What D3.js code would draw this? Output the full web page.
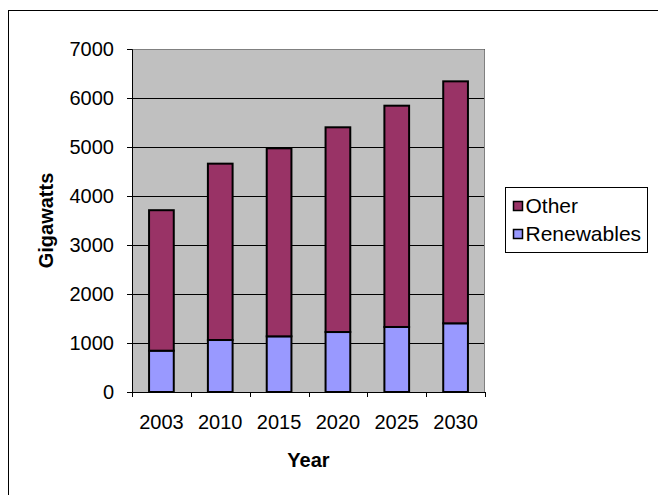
<!DOCTYPE html>
<html>
<head>
<meta charset="utf-8">
<script src="https://cdn.jsdelivr.net/npm/d3@7"></script>
<style>
  body { margin: 0; background: #fff; }
  svg text { font-family: "Liberation Sans", Arial, sans-serif; }
</style>
</head>
<body>
<div id="chart"></div>
<script>
'use strict';

// values (gigawatts)
var years = ['2003', '2010', '2015', '2020', '2025', '2030'];
var renewables = [843, 1061, 1136, 1224, 1327, 1402];
var other = [2867, 3599, 3837, 4178, 4516, 4938];
var yTicks = [0, 1000, 2000, 3000, 4000, 5000, 6000, 7000];
var seriesNames = ['Other', 'Renewables'];
var seriesColors = ['#993366', '#9999FF'];

var W = 658, H = 495;
var margin = {top: 49, right: 173, bottom: 103, left: 132};
var width = W - margin.left - margin.right;
var height = H - margin.top - margin.bottom;
var fontSize = 20;

var svg = d3.select('#chart').append('svg')
	.attr('width', W)
	.attr('height', H);

// outer chart border (runs off the right/bottom edge)
svg.append('rect')
	.attr('x', 8.5).attr('y', 10.5)
	.attr('width', 700).attr('height', 600)
	.attr('fill', 'none')
	.attr('stroke', '#000');

var g = svg.append('g')
	.attr('transform', 'translate(' + margin.left + ',' + margin.top + ')');

var x = d3.scaleBand().domain(years).range([0, width]).paddingInner(0.58).paddingOuter(0.29);
var y = d3.scaleLinear().domain([0, 7000]).range([height, 0]);

g.append('rect')
	.attr('width', width).attr('height', height)
	.attr('fill', '#C0C0C0');

g.selectAll('line.grid').data(yTicks.slice(1)).enter()
	.append('line')
	.attr('class', 'grid')
	.attr('x1', 0).attr('x2', width)
	.attr('y1', function(d){ return Math.round(y(d)) + 0.5; })
	.attr('y2', function(d){ return Math.round(y(d)) + 0.5; })
	.attr('stroke', '#000');

// plot frame top/right
g.append('path')
	.attr('d', 'M0,0.5H' + (width - 0.5) + 'V' + height)
	.attr('fill', 'none')
	.attr('stroke', '#808080');

var data = years.map(function(yr, i){
	return {year: yr, Renewables: renewables[i], Other: other[i]};
});
var stack = d3.stack().keys(['Renewables', 'Other'])(data);
var color = d3.scaleOrdinal().domain(seriesNames).range(seriesColors);

g.selectAll('g.layer').data(stack).enter()
	.append('g')
	.attr('class', 'layer')
	.attr('fill', function(d){ return color(d.key); })
	.selectAll('rect').data(function(d){ return d; }).enter()
	.append('rect')
		.attr('x', function(d){ return x(d.data.year); })
		.attr('y', function(d){ return y(d[1]); })
		.attr('width', x.bandwidth())
		.attr('height', function(d){ return y(d[0]) - y(d[1]); })
		.attr('stroke', '#000')
		.attr('stroke-width', 2);

// axes
var yAxis = g.append('g')
	.call(d3.axisLeft(y).tickValues(yTicks).tickSize(5).tickPadding(13).tickFormat(d3.format('d')));
yAxis.select('.domain').attr('stroke', '#000');
yAxis.selectAll('text').attr('font-size', fontSize).attr('fill', '#000');

var xAxis = g.append('g')
	.attr('transform', 'translate(0,' + height + ')')
	.call(d3.axisBottom(x).tickSize(0).tickPadding(23));
xAxis.select('.domain').remove();
xAxis.selectAll('text').attr('font-size', fontSize).attr('fill', '#000');

// x ticks sit on category boundaries
g.append('line')
	.attr('x1', 0).attr('x2', width)
	.attr('y1', height + 0.5).attr('y2', height + 0.5)
	.attr('stroke', '#000');
g.selectAll('line.xtick').data(d3.range(years.length + 1)).enter()
	.append('line')
	.attr('class', 'xtick')
	.attr('x1', function(i){ return Math.round(i * x.step()) + 0.5; })
	.attr('x2', function(i){ return Math.round(i * x.step()) + 0.5; })
	.attr('y1', height).attr('y2', height + 5)
	.attr('stroke', '#000');

// axis titles
svg.append('text')
	.attr('transform', 'translate(53,' + (margin.top + height / 2) + ') rotate(-90)')
	.attr('text-anchor', 'middle')
	.attr('font-size', fontSize).attr('font-weight', 'bold')
	.text('Gigawatts');

svg.append('text')
	.attr('x', margin.left + width / 2).attr('y', 467)
	.attr('text-anchor', 'middle')
	.attr('font-size', fontSize).attr('font-weight', 'bold')
	.text('Year');

// legend
var legend = svg.append('g').attr('transform', 'translate(505.5,187.5)');
legend.append('rect')
	.attr('width', 142).attr('height', 65)
	.attr('fill', '#fff').attr('stroke', '#000');

var item = legend.selectAll('g.item').data(seriesNames).enter()
	.append('g')
	.attr('class', 'item')
	.attr('transform', function(d, i){ return 'translate(8,' + (14 + i * 28) + ')'; });
item.append('rect')
	.attr('width', 9).attr('height', 9)
	.attr('fill', function(d){ return color(d); })
	.attr('stroke', '#000').attr('stroke-width', 1.5);
item.append('text')
	.attr('x', 12).attr('y', 11)
	.attr('font-size', 21)
	.text(function(d){ return d; });
</script>
</body>
</html>
